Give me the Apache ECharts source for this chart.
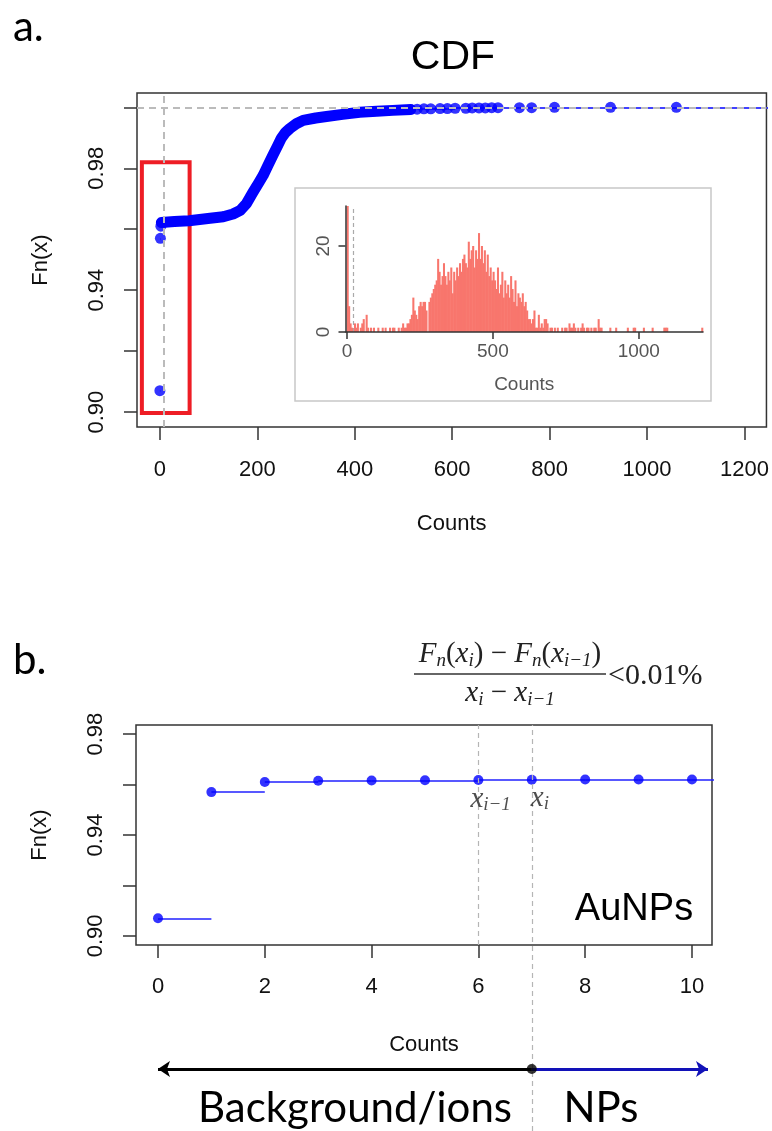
<!DOCTYPE html>
<html><head><meta charset="utf-8">
<script src="https://cdn.jsdelivr.net/npm/echarts@6/dist/echarts.min.js"></script>
<style>html,body{margin:0;padding:0;background:#fff}#c{width:772px;height:1131px}</style>
</head><body><div id="c"></div>
<script>
// ---------- Panel a: ECDF of counts ----------
const stepCountsA = [0, 1, 2];
const stepFnA = [0.907, 0.957, 0.961];
const curveCountsA = [3, 30, 60, 103, 130, 150, 165, 178, 191, 202, 212, 222, 232, 241, 249, 258, 267, 280, 294, 320, 342, 375, 410, 445, 478, 515];
const curveFnA = [0.9622, 0.9625, 0.9628, 0.9636, 0.9641, 0.9650, 0.9662, 0.9685, 0.9721, 0.9750, 0.9777, 0.9810, 0.9843, 0.9872, 0.9898, 0.9918, 0.9931, 0.9946, 0.9957, 0.9965, 0.9970, 0.9977, 0.9984, 0.9987, 0.9990, 0.9993];
const tailCountsA = [528, 542, 556, 575, 590, 606, 628, 641, 655, 668, 681, 694, 738, 763, 810, 925, 1060];
const tailFnA = [0.9994, 0.9995, 0.9995, 0.9996, 0.9996, 0.9997, 0.9997, 0.9998, 0.9998, 0.9998, 0.9999, 0.9999, 0.9999, 0.9999, 1.0, 1.0, 1.0];
const thresholdA = 7;
const upperFnA = 1.0;
const boxA = { x0: -37, x1: 61, y0: 0.8997, y1: 0.982 };
const xTicksA = [0, 200, 400, 600, 800, 1000, 1200];
const yTicksA = [0.90, 0.92, 0.94, 0.96, 0.98, 1.00];
const yLabelsA = [0.90, 0.94, 0.98];

// ---------- Inset histogram ----------
const histBinWidth = 5;
const histCounts = [
  30, 6, 2, 1, 0, 2, 1, 2, 0, 1,
  2, 3, 0, 4, 1, 0, 1, 0, 1, 0,
  0, 1, 0, 0, 1, 0, 1, 0, 0, 1,
  0, 1, 1, 0, 0, 1, 0, 1, 2, 1,
  1, 2, 2, 3, 4, 8, 5, 4, 3, 6,
  7, 6, 7, 7, 5, 0, 7, 8, 9, 10,
  11, 12, 17, 14, 11, 13, 16, 13, 11, 14,
  12, 15, 9, 14, 12, 15, 13, 16, 14, 17,
  18, 16, 15, 21, 17, 19, 20, 15, 19, 17,
  23, 17, 20, 16, 19, 14, 18, 13, 15, 12,
  14, 12, 10, 15, 9, 11, 14, 8, 12, 9,
  11, 8, 13, 10, 7, 12, 6, 9, 8, 7,
  9, 6, 7, 5, 3, 3, 2, 3, 5, 1,
  1, 4, 1, 2, 1, 3, 3, 2, 0, 1,
  1, 0, 1, 0, 1, 0, 0, 1, 0, 1,
  1, 0, 2, 1, 1, 2, 1, 0, 1, 0,
  1, 2, 1, 0, 1, 1, 0, 1, 0, 1,
  1, 0, 3, 1, 1, 0, 0, 0, 0, 0,
  1, 0, 0, 0, 1, 0, 0, 0, 0, 0,
  0, 0, 1, 0, 0, 0, 1, 1, 0, 0,
  0, 0, 0, 1, 0, 0, 0, 0, 0, 1,
  0, 0, 0, 0, 0, 0, 0, 1, 1, 1,
  0, 0, 0, 0, 0, 0, 0, 0, 0, 0,
  0, 0, 0, 0, 0, 0, 0, 0, 0, 0,
  0, 0, 0, 1
];
const histThreshold = 20;
const histXTicks = [0, 500, 1000];
const histYTicks = [0, 20];

// ---------- Panel b: zoom on first counts ----------
const countsB = [0, 1, 2, 3, 4, 5, 6, 7, 8, 9, 10];
const fnB = [0.907, 0.957, 0.961, 0.9615, 0.9616, 0.9617, 0.9618, 0.9619, 0.962, 0.962, 0.962];
const xTicksB = [0, 2, 4, 6, 8, 10];
const yTicksB = [0.90, 0.92, 0.94, 0.96, 0.98];
const yLabelsB = [0.90, 0.94, 0.98];
const markedB = [6, 7];
const markedNames = ['i\u22121', 'i'];
const thresholdB = 7;
const arrowBgEnd = 0;
const arrowNpEnd = 10.3;

// ---------- styling ----------
const SANS = '"Liberation Sans",Arial,sans-serif';
const SERIF = '"Liberation Serif","DejaVu Serif",serif';
const CAL = 'Lato,"Open Sans",sans-serif';
const BLUE = '#0000ff';
const TXT = '#111';
const FS = 22;
const tickStyle = { color: '#333', width: 1.5 };
const grayDashA = { color: '#bbbbbb', width: 2, type: [7, 5] };
const grayDashB = { color: '#b5b5b5', width: 1.2, type: [5, 4] };

function pairs(xs, ys) { return xs.map((x, i) => [x, ys[i]]); }
function stepSegs(xs, ys, endX) {
  return xs.map((x, i) => ({ coords: [[x, ys[i]], [i + 1 < xs.length ? xs[i + 1] : endX, ys[i]]] }));
}
const fmt2 = v => v.toFixed(2);
const fmtInt = v => String(v);

const chart = echarts.init(document.getElementById('c'), null, { renderer: 'canvas' });

const histData = histCounts.map((c, i) => [i * histBinWidth, (i + 1) * histBinWidth, c]);

const noLine = { show: false, onZero: false };

const option = {
  animation: false,
  backgroundColor: '#fff',
  grid: [
    { left: 137, top: 93, width: 630, height: 334, show: true, borderColor: '#333', borderWidth: 1.5 },
    { left: 345.5, top: 206, width: 357.5, height: 126 },
    { left: 136, top: 725, width: 576, height: 220, show: true, borderColor: '#333', borderWidth: 1.5 },
    { left: 136, top: 725, width: 576, height: 406 },
    { left: 136, top: 1059, width: 576, height: 20 }
  ],
  xAxis: [
    { gridIndex: 0, type: 'value', min: -47, max: 1245, splitLine: { show: false }, axisLine: noLine,
      axisTick: { show: true, length: 13, customValues: xTicksA, lineStyle: tickStyle },
      axisLabel: { customValues: xTicksA, formatter: fmtInt, fontFamily: SANS, fontSize: FS, color: TXT, margin: 32 },
      name: 'Counts', nameLocation: 'middle', nameGap: 86, nameTextStyle: { fontFamily: SANS, fontSize: FS, color: TXT } },
    { gridIndex: 1, type: 'value', min: -5, max: 1220, splitLine: { show: false }, z: 10,
      axisLine: { show: true, onZero: false, lineStyle: { color: '#333', width: 1.5 } },
      axisTick: { show: true, length: 7, customValues: histXTicks, lineStyle: tickStyle },
      axisLabel: { customValues: histXTicks, formatter: fmtInt, fontFamily: SANS, fontSize: 19, color: '#555', margin: 10 },
      name: 'Counts', nameLocation: 'middle', nameGap: 43, nameTextStyle: { fontFamily: SANS, fontSize: 19, color: '#555' } },
    { gridIndex: 2, type: 'value', min: -0.412, max: 10.375, splitLine: { show: false }, axisLine: noLine,
      axisTick: { show: true, length: 13, customValues: xTicksB, lineStyle: tickStyle },
      axisLabel: { customValues: xTicksB, formatter: fmtInt, fontFamily: SANS, fontSize: FS, color: TXT, margin: 31 },
      name: 'Counts', nameLocation: 'middle', nameGap: 89, nameTextStyle: { fontFamily: SANS, fontSize: FS, color: TXT } },
    { gridIndex: 3, type: 'value', min: -0.412, max: 10.375, show: false },
    { gridIndex: 4, type: 'value', min: -0.412, max: 10.375, show: false }
  ],
  yAxis: [
    { gridIndex: 0, type: 'value', min: 0.8951, max: 1.0047, splitLine: { show: false }, axisLine: noLine,
      axisTick: { show: true, length: 13, customValues: yTicksA, lineStyle: tickStyle },
      axisLabel: { customValues: yLabelsA, formatter: fmt2, rotate: 90, fontFamily: SANS, fontSize: FS, color: TXT, margin: 29 },
      name: 'Fn(x)', nameLocation: 'middle', nameGap: 85, nameRotate: 90, nameTextStyle: { fontFamily: SANS, fontSize: FS, color: TXT } },
    { gridIndex: 1, type: 'value', min: 0, max: 29.3, splitLine: { show: false }, z: 10,
      axisLine: { show: true, onZero: false, lineStyle: { color: '#333', width: 1.5 } },
      axisTick: { show: true, length: 7, customValues: histYTicks, lineStyle: tickStyle },
      axisLabel: { customValues: histYTicks, rotate: 90, fontFamily: SANS, fontSize: 19, color: '#555', margin: 12 } },
    { gridIndex: 2, type: 'value', min: 0.8964, max: 0.9836, splitLine: { show: false }, axisLine: noLine,
      axisTick: { show: true, length: 13, customValues: yTicksB, lineStyle: tickStyle },
      axisLabel: { customValues: yLabelsB, formatter: fmt2, rotate: 90, fontFamily: SANS, fontSize: FS, color: TXT, margin: 29 },
      name: 'Fn(x)', nameLocation: 'middle', nameGap: 85, nameRotate: 90, nameTextStyle: { fontFamily: SANS, fontSize: FS, color: TXT } },
    { gridIndex: 3, type: 'value', min: 0, max: 1, show: false },
    { gridIndex: 4, type: 'value', min: -1, max: 1, show: false }
  ],
  series: [
    // panel a: horizontal ecdf segments (first steps, then the sparse upper tail)
    { type: 'lines', coordinateSystem: 'cartesian2d', xAxisIndex: 0, yAxisIndex: 0, z: 2, silent: true,
      data: stepSegs(stepCountsA, stepFnA, curveCountsA[0]).concat(stepSegs(tailCountsA, tailFnA, 1300)),
      lineStyle: { color: BLUE, width: 1.5, opacity: 1 } },
    // panel a: guides
    { type: 'scatter', xAxisIndex: 0, yAxisIndex: 0, data: [], z: 3, silent: true,
      markLine: { silent: true, symbol: 'none', label: { show: false }, lineStyle: grayDashA,
        data: [{ yAxis: upperFnA }, { xAxis: thresholdA }] } },
    // panel a: dense part of the curve
    { type: 'line', xAxisIndex: 0, yAxisIndex: 0, z: 4, silent: true, showSymbol: false,
      data: pairs(curveCountsA, curveFnA),
      lineStyle: { color: BLUE, width: 11, cap: 'round', join: 'round' } },
    // panel a: individual points
    { type: 'scatter', xAxisIndex: 0, yAxisIndex: 0, z: 4, silent: true, symbolSize: 11,
      itemStyle: { color: BLUE }, data: pairs(stepCountsA.concat(tailCountsA), stepFnA.concat(tailFnA)) },
    // panel a: red box
    { type: 'scatter', xAxisIndex: 0, yAxisIndex: 0, data: [], z: 6, silent: true,
      markArea: { silent: true, label: { show: false },
        itemStyle: { color: 'rgba(0,0,0,0)', borderColor: '#ee1d25', borderWidth: 4 },
        data: [[{ coord: [boxA.x0, boxA.y1] }, { coord: [boxA.x1, boxA.y0] }]] } },
    // inset histogram
    { type: 'custom', xAxisIndex: 1, yAxisIndex: 1, z: 8, silent: true, clip: true,
      data: histData, encode: { x: [0, 1], y: 2 },
      renderItem: function (params, api) {
        const s = api.coord([api.value(0), 0]);
        const e = api.coord([api.value(1), api.value(2)]);
        return { type: 'rect', shape: { x: s[0] - 0.3, y: e[1], width: e[0] - s[0] + 0.6, height: s[1] - e[1] },
          style: { fill: '#f8766d' } };
      },
      markLine: { silent: true, symbol: 'none', label: { show: false },
        lineStyle: { color: '#aaa', width: 1.2, type: [4, 3] }, data: [{ xAxis: histThreshold }] } },
    // panel b: horizontal ecdf segments
    { type: 'lines', coordinateSystem: 'cartesian2d', xAxisIndex: 2, yAxisIndex: 2, z: 2, silent: true,
      data: stepSegs(countsB, fnB, 11), lineStyle: { color: '#2020ff', width: 1.6, opacity: 1 } },
    // panel b: points
    { type: 'scatter', xAxisIndex: 2, yAxisIndex: 2, z: 3, silent: true, symbolSize: 10,
      itemStyle: { color: BLUE }, data: pairs(countsB, fnB) },
    // panel b: guide at x_{i-1} and labels
    { type: 'scatter', xAxisIndex: 2, yAxisIndex: 2, z: 5, silent: true, symbolSize: 0,
      data: markedB.map((x, k) => ({ value: [x, fnB[countsB.indexOf(x)]],
        label: { formatter: '{x|x}{s|' + markedNames[k] + '}', offset: [k === 0 ? -8 : -1, 0] } })),
      label: { show: true, position: 'bottom', distance: 4, align: 'left',
        rich: { x: { fontFamily: SERIF, fontStyle: 'italic', fontSize: 29, color: '#222', lineHeight: 30 },
                s: { fontFamily: SERIF, fontStyle: 'italic', fontSize: 19, color: '#222', verticalAlign: 'bottom', lineHeight: 18 } } },
      markLine: { silent: true, symbol: 'none', label: { show: false }, lineStyle: grayDashB,
        data: [{ xAxis: markedB[0] }] } },
    // threshold line running down through the arrows
    { type: 'scatter', xAxisIndex: 3, yAxisIndex: 3, data: [], z: 5, silent: true,
      markLine: { silent: true, symbol: 'none', label: { show: false }, lineStyle: grayDashB,
        data: [{ xAxis: thresholdB }] } },
    // arrows
    { type: 'lines', coordinateSystem: 'cartesian2d', xAxisIndex: 4, yAxisIndex: 4, z: 4, silent: true,
      symbol: ['none', 'arrow'], symbolSize: 12,
      data: [
        { coords: [[thresholdB, 0], [arrowBgEnd, 0]], lineStyle: { color: '#000' } },
        { coords: [[thresholdB, 0], [arrowNpEnd, 0]], lineStyle: { color: '#1212b8' } }
      ],
      lineStyle: { width: 3, opacity: 1 } },
    { type: 'scatter', xAxisIndex: 4, yAxisIndex: 4, z: 6, silent: true, symbolSize: 10,
      itemStyle: { color: '#000' }, data: [[thresholdB, 0]] }
  ],
  graphic: [
    { type: 'rect', z: 1, shape: { x: 295, y: 188, width: 416, height: 213 },
      style: { fill: '#fff', stroke: '#c8c8c8', lineWidth: 1.5 } },
    { type: 'text', x: 13, y: 27, style: { text: 'a.', font: '42px ' + CAL, fill: '#000', verticalAlign: 'middle' } },
    { type: 'text', x: 13, y: 660, style: { text: 'b.', font: '42px ' + CAL, fill: '#000', verticalAlign: 'middle' } },
    { type: 'text', x: 453, y: 58, style: { text: 'CDF', font: '41px ' + SANS, fill: '#000', align: 'center', verticalAlign: 'middle' } },
    { type: 'text', x: 634, y: 910, style: { text: 'AuNPs', font: '38px ' + SANS, fill: '#000', align: 'center', verticalAlign: 'middle' } },
    { type: 'text', x: 355, y: 1108, style: { text: 'Background/ions', font: '42px ' + CAL, fill: '#000', align: 'center', verticalAlign: 'middle' } },
    { type: 'text', x: 601, y: 1108, style: { text: 'NPs', font: '42px ' + CAL, fill: '#000', align: 'center', verticalAlign: 'middle' } },
    { type: 'text', x: 510, y: 654, z: 10, style: {
        text: '{i|F}{s|n}{r|(}{i|x}{s|i}{r|) \u2212 }{i|F}{s|n}{r|(}{i|x}{s|i\u22121}{r|)}',
        align: 'center', verticalAlign: 'middle',
        rich: { i: { fontFamily: SERIF, fontStyle: 'italic', fontSize: 29, fill: '#222', lineHeight: 32 },
                r: { fontFamily: SERIF, fontSize: 29, fill: '#222', lineHeight: 32 },
                s: { fontFamily: SERIF, fontStyle: 'italic', fontSize: 19, fill: '#222', verticalAlign: 'bottom', lineHeight: 18 } } } },
    { type: 'line', z: 10, shape: { x1: 414, y1: 674, x2: 606, y2: 674 }, style: { stroke: '#333', lineWidth: 1.6 } },
    { type: 'text', x: 510, y: 693, z: 10, style: {
        text: '{i|x}{s|i}{r| \u2212 }{i|x}{s|i\u22121}',
        align: 'center', verticalAlign: 'middle',
        rich: { i: { fontFamily: SERIF, fontStyle: 'italic', fontSize: 29, fill: '#222', lineHeight: 32 },
                r: { fontFamily: SERIF, fontSize: 29, fill: '#222', lineHeight: 32 },
                s: { fontFamily: SERIF, fontStyle: 'italic', fontSize: 19, fill: '#222', verticalAlign: 'bottom', lineHeight: 18 } } } },
    { type: 'text', x: 608, y: 676, z: 10, style: { text: '<0.01%', font: '30px ' + SERIF, fill: '#222', align: 'left', verticalAlign: 'middle' } }
  ]
};
chart.setOption(option);
</script></body></html>
